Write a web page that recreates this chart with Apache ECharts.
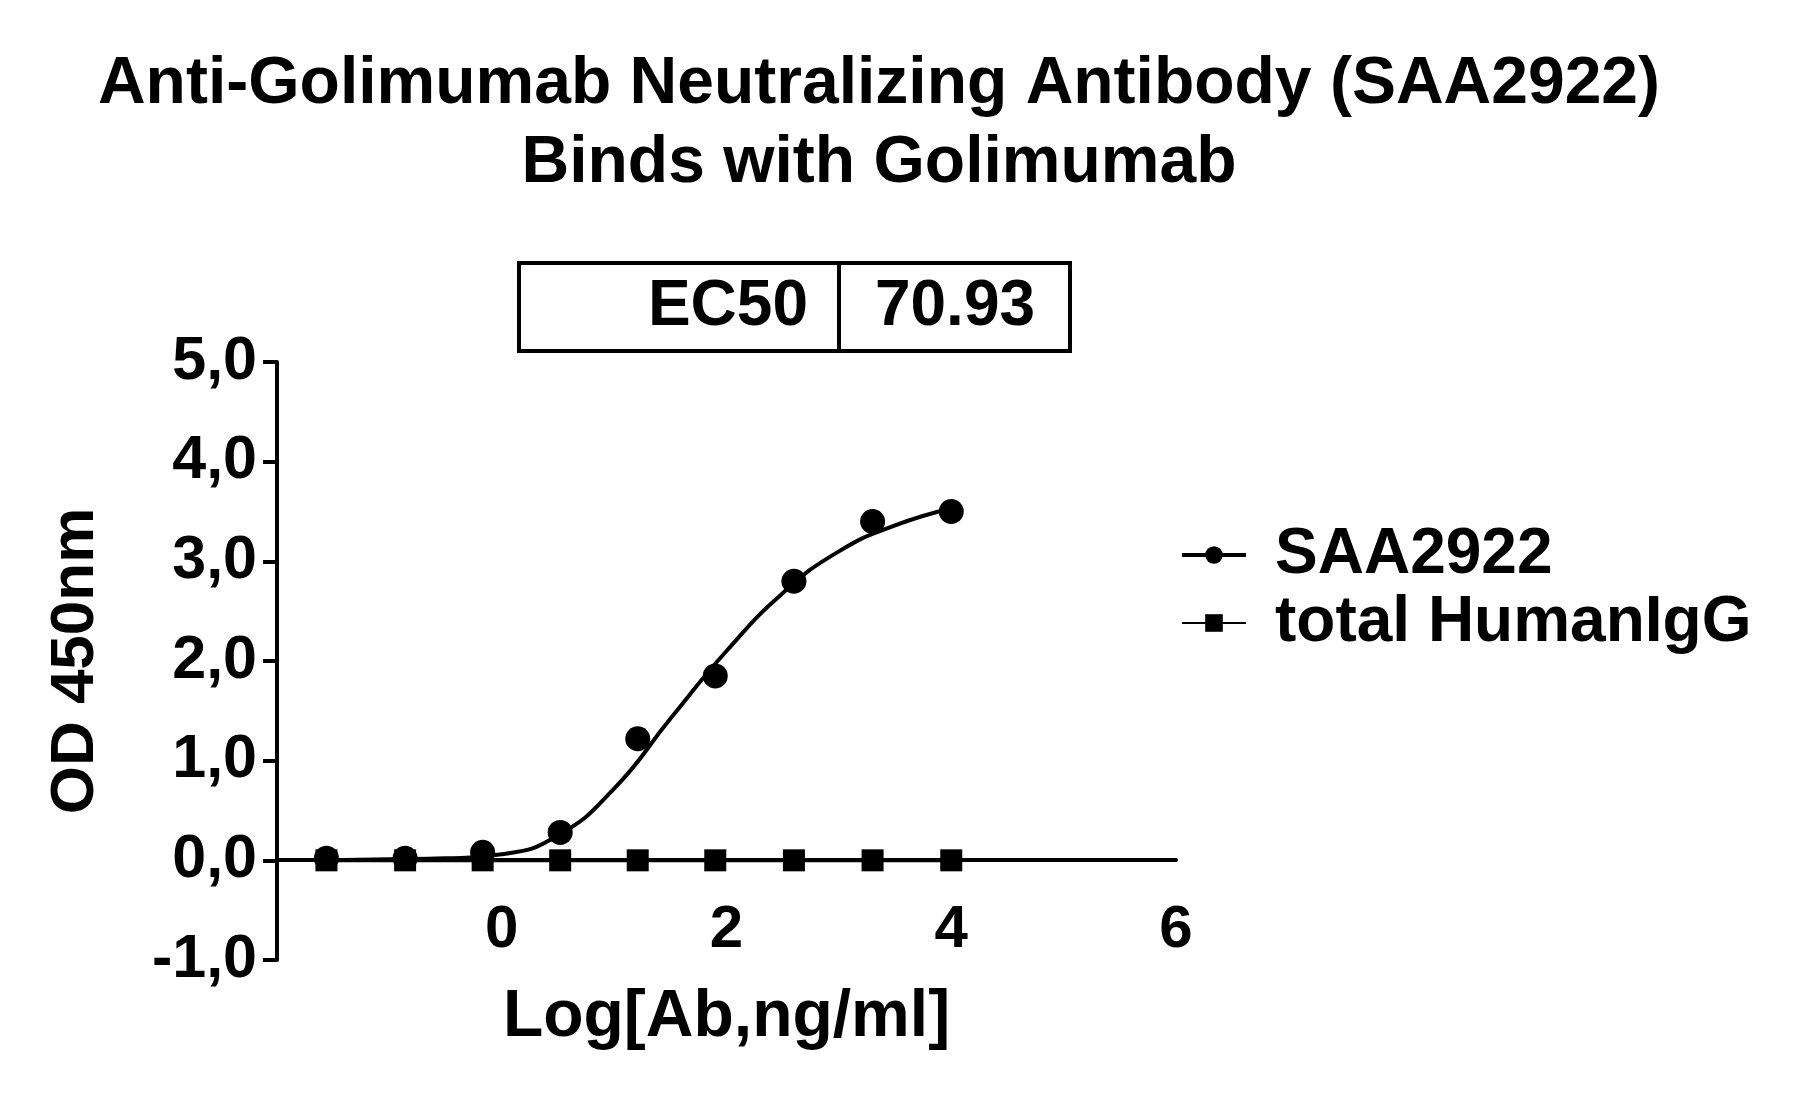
<!DOCTYPE html>
<html>
<head>
<meta charset="utf-8">
<script src="https://cdn.jsdelivr.net/npm/echarts@6/dist/echarts.min.js"></script>
<style>html,body{margin:0;background:#fff}#chart{width:1812px;height:1101px}</style>
</head>
<body>
<div id="chart"></div>
<script>
// measured points
const saaX = [-1.56, -0.86, -0.17, 0.52, 1.21, 1.9, 2.6, 3.3, 4.0]
const saaY = [0.02, 0.02, 0.08, 0.28, 1.22, 1.85, 2.8, 3.4, 3.5]
const iggY = [0.0, 0.0, 0.0, 0.0, 0.0, 0.0, 0.0, 0.0, 0.0]
// fitted curve
const fitX = [-1.56, -1, -0.5, 0, 0.5, 1, 1.5, 2, 2.5, 3, 3.5, 4]
const fitY = [0.0, 0.01, 0.02, 0.06, 0.25, 0.72, 1.42, 2.1, 2.68, 3.1, 3.36, 3.53]
const ec50 = '70.93'

const font = 'Arial, "Liberation Sans", sans-serif'
const pair = (xs, ys) => xs.map((x, i) => [x, ys[i]])

var myChart = echarts.init(document.getElementById('chart'))
myChart.setOption({
    animation: false,
    title: {
        text: 'Anti-Golimumab Neutralizing Antibody (SAA2922)\nBinds with Golimumab',
        left: 874, top: 40, textAlign: 'center',
        textStyle: { fontFamily: font, fontSize: 66, fontWeight: 'bold', color: '#000', lineHeight: 79 },
    },
    grid: { left: 277, right: 636, top: 362, bottom: 141, outerBoundsMode: 'none', containLabel: false },
    xAxis: {
        type: 'value', min: -2, max: 6, interval: 2,
        // axis sits on y = 0 (one unit of a 6-unit span above the bottom)
        offset: -100,
        name: 'Log[Ab,ng/ml]', nameLocation: 'middle', nameGap: 125,
        nameTextStyle: { fontFamily: font, fontSize: 66, fontWeight: 'bold', color: '#000' },
        axisLine: { onZero: false, lineStyle: { color: '#000', width: 4 } },
        axisTick: { show: false },
        splitLine: { show: false },
        axisLabel: {
            margin: 40, fontFamily: font, fontSize: 60, fontWeight: 'bold', color: '#000',
            formatter: v => (v === -2 ? '' : String(v)),
        },
    },
    yAxis: {
        type: 'value', min: -1, max: 5, interval: 1,
        name: 'OD 450nm', nameLocation: 'middle', nameGap: 170,
        nameTextStyle: { fontFamily: font, fontSize: 62, fontWeight: 'bold', color: '#000' },
        axisLine: { show: true, onZero: false, lineStyle: { color: '#000', width: 4 } },
        axisTick: { show: true, length: 14, lineStyle: { width: 4 } },
        splitLine: { show: false },
        axisLabel: {
            margin: 20, fontFamily: font, fontSize: 61, fontWeight: 'bold', color: '#000',
            formatter: v => v.toFixed(1).replace('.', ','),
        },
    },
    legend: {
        left: 1175, top: 518, orient: 'vertical', itemGap: 4, itemWidth: 64, itemHeight: 22,
        textStyle: { fontFamily: font, fontSize: 64, fontWeight: 'bold', color: '#000', padding: [0, 0, 0, 24] },
        data: [
            { name: 'SAA2922', lineStyle: { width: 4, color: '#000' } },
            { name: 'total HumanIgG' },
        ],
    },
    series: [
        {
            name: 'fit', type: 'line', smooth: true, showSymbol: false, silent: true,
            lineStyle: { color: '#000', width: 4 }, data: pair(fitX, fitY),
        },
        {
            name: 'SAA2922', type: 'line', symbol: 'circle', symbolSize: 25,
            lineStyle: { width: 0, color: '#000' }, itemStyle: { color: '#000' },
            data: pair(saaX, saaY),
        },
        {
            name: 'total HumanIgG', type: 'line', symbol: 'rect', symbolSize: 22,
            lineStyle: { width: 4, color: '#000' }, itemStyle: { color: '#000' },
            data: pair(saaX, iggY),
        },
    ],
    graphic: [
        { type: 'rect', shape: { x: 519, y: 263, width: 551, height: 88 }, style: { fill: 'none', stroke: '#000', lineWidth: 4 } },
        { type: 'line', shape: { x1: 839, y1: 263, x2: 839, y2: 351 }, style: { stroke: '#000', lineWidth: 4 } },
        { type: 'text', x: 808, y: 307, style: { text: 'EC50', align: 'right', verticalAlign: 'middle', font: 'bold 64px ' + font, fill: '#000' } },
        { type: 'text', x: 955, y: 307, style: { text: ec50, align: 'center', verticalAlign: 'middle', font: 'bold 64px ' + font, fill: '#000' } },
    ],
})
</script>
</body>
</html>
